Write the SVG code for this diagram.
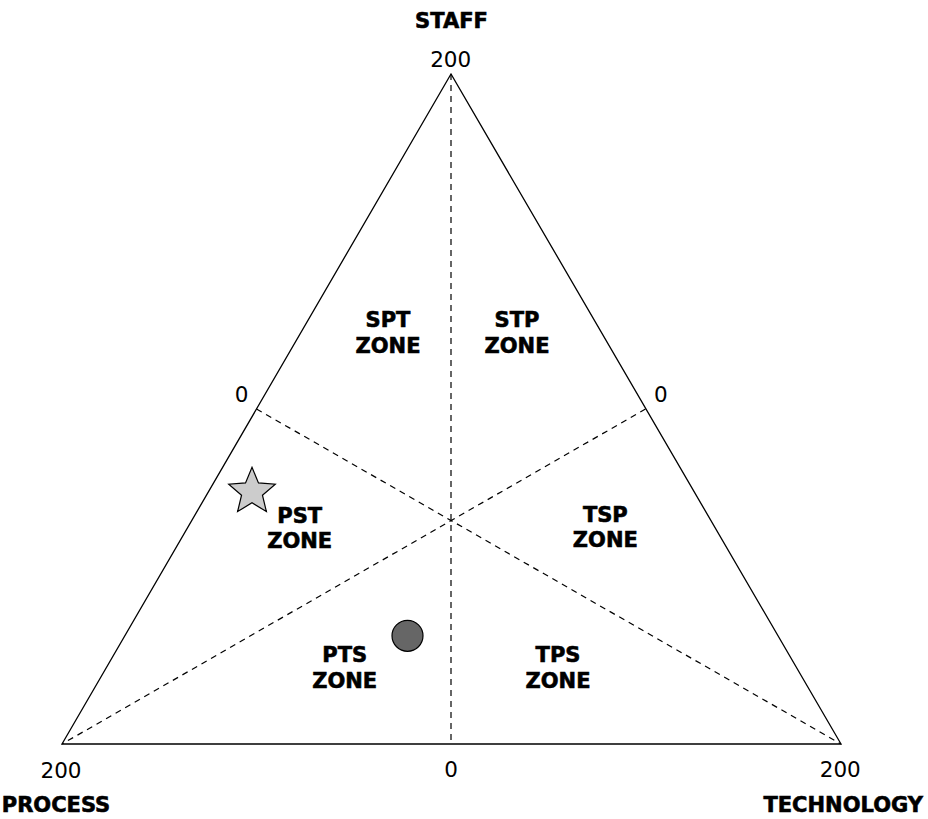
<svg xmlns="http://www.w3.org/2000/svg" width="928" height="819" viewBox="0 0 928 819">
  <style>
    .edge { fill: none; stroke: #000; stroke-width: 1.3; }
    .dash { fill: none; stroke: #000; stroke-width: 1.2; stroke-dasharray: 6 5; }
    .num { font-family: "DejaVu Sans", "Liberation Sans", sans-serif; font-size: 21.5px; fill: #000; }
    .axis { font-family: "DejaVu Sans", "Liberation Sans", sans-serif; font-size: 21px; font-weight: bold; fill: #000; stroke: #000; stroke-width: 0.6; }
    .zone { font-family: "DejaVu Sans", "Liberation Sans", sans-serif; font-size: 21px; font-weight: bold; fill: #000; stroke: #000; stroke-width: 0.6; text-anchor: middle; }
  </style>
  <rect width="928" height="819" fill="#fff"/>

  <!-- dividing lines from each corner to the opposite side midpoint -->
  <g id="connectors">
    <line class="dash" x1="451" y1="74" x2="451" y2="744"/>
    <line class="dash" x1="256.5" y1="409" x2="841" y2="744"/>
    <line class="dash" x1="645.5" y1="409" x2="62" y2="744"/>
  </g>

  <!-- triangle outline -->
  <g id="triangle">
    <polygon class="edge" points="451,74 62,744 841,744"/>
  </g>

  <!-- axis names and scale values -->
  <g id="axis-staff">
    <text class="axis" x="451.5" y="28.3" text-anchor="middle">STAFF</text>
    <text class="num" x="450.7" y="66.7" text-anchor="middle">200</text>
  </g>
  <g id="axis-process">
    <text class="axis" x="56" y="811.7" text-anchor="middle">PROCESS</text>
    <text class="num" x="61" y="778.3" text-anchor="middle">200</text>
  </g>
  <g id="axis-technology">
    <text class="axis" x="923" y="812" text-anchor="end">TECHNOLOGY</text>
    <text class="num" x="840.3" y="777.3" text-anchor="middle">200</text>
  </g>
  <g id="scale-zero">
    <text class="num" x="241.7" y="402.3" text-anchor="middle">0</text>
    <text class="num" x="660.8" y="402.3" text-anchor="middle">0</text>
    <text class="num" x="451" y="776.7" text-anchor="middle">0</text>
  </g>

  <!-- zone labels -->
  <g id="zone-spt"><text class="zone" x="388" y="327.3">SPT</text><text class="zone" x="388" y="353.3">ZONE</text></g>
  <g id="zone-stp"><text class="zone" x="517" y="327.3">STP</text><text class="zone" x="517" y="353.3">ZONE</text></g>
  <g id="zone-pst"><text class="zone" x="299.7" y="522.7">PST</text><text class="zone" x="299.7" y="548.3">ZONE</text></g>
  <g id="zone-tsp"><text class="zone" x="605.3" y="521.7">TSP</text><text class="zone" x="605.3" y="547.3">ZONE</text></g>
  <g id="zone-pts"><text class="zone" x="344.7" y="661.7">PTS</text><text class="zone" x="344.7" y="688.3">ZONE</text></g>
  <g id="zone-tps"><text class="zone" x="558" y="662.3">TPS</text><text class="zone" x="558" y="688.3">ZONE</text></g>

  <!-- plotted markers -->
  <g id="marker-star">
    <polygon points="252,467.3 258.47,482.9 275.3,484.23 262.46,495.2 266.4,511.6 252,502.8 237.6,511.6 241.54,495.2 228.7,484.23 245.53,482.9" fill="#cccccc" stroke="#000" stroke-width="1.2" stroke-linejoin="miter"/>
  </g>
  <g id="marker-circle">
    <circle cx="407.5" cy="635.8" r="15.5" fill="#666666" stroke="#000" stroke-width="1.2"/>
  </g>
</svg>
